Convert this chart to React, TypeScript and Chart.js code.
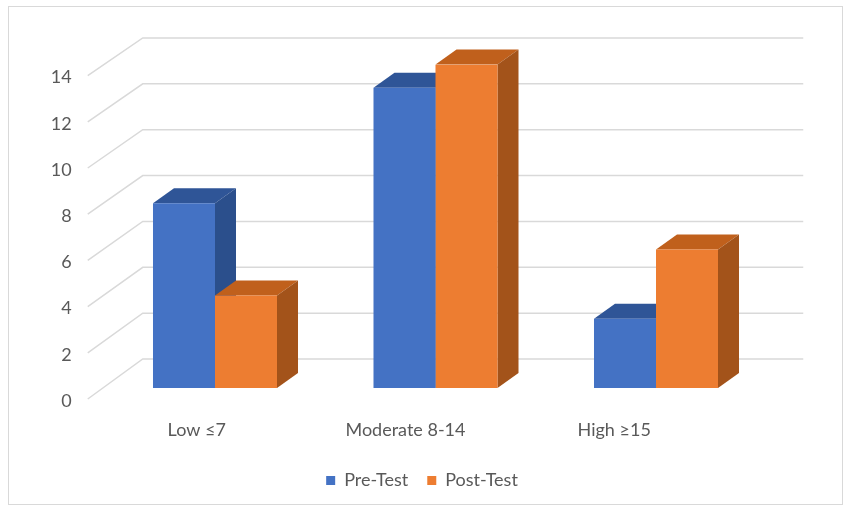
import { useEffect, useRef } from 'react';
import { Chart, registerables } from 'chart.js';

Chart.register(...registerables);

const categories = ['Low ≤7', 'Moderate 8-14', 'High ≥15'];
const seriesNames = ['Pre-Test', 'Post-Test'];
const preTest = [8, 13, 3];
const postTest = [4, 14, 6];
const yTicks = [0, 2, 4, 6, 8, 10, 12, 14];

const FRONT = ['#4472c4', '#ed7d31'];
const TOP = ['#2f5597', '#c0601c'];
const SIDE = ['#2b4f8c', '#a3531a'];
const DX = 21;
const DY = -15;
const TEXT = '#595959';
const FONT = { family: 'Lato, "Open Sans", sans-serif', size: 18 };
const LABEL_MIN = -0.4405;
const LABEL_MAX = 2.7284;

const threeD = {
  id: 'threeD',
  beforeDraw(chart: any) {
    const ctx = chart.ctx;
    ctx.save();
    ctx.strokeStyle = '#d9d9d9';
    ctx.lineWidth = 1;
    ctx.strokeRect(8.5, 6.5, 834, 498);
    ctx.restore();
  },
  beforeDatasetsDraw(chart: any) {
    const ctx = chart.ctx;
    const ys = chart.scales.y;
    const area = chart.chartArea;
    const y0 = ys.getPixelForValue(0);
    ctx.save();
    ctx.strokeStyle = '#d9d9d9';
    ctx.lineWidth = 1.5;
    for (const v of yTicks) {
      const yf = ys.getPixelForValue(v);
      const yb = y0 - 29 + (yf - y0) * 0.9926;
      ctx.beginPath();
      ctx.moveTo(area.left - 17, yf + 11);
      ctx.lineTo(area.left + 38, yb);
      ctx.lineTo(area.right + 37, yb);
      ctx.stroke();
    }
    chart.data.datasets.forEach((_ds: any, di: number) => {
      const meta = chart.getDatasetMeta(di);
      meta.data.forEach((bar: any) => {
        const { x, y, base, width } = bar.getProps(['x', 'y', 'base', 'width'], true);
        const l = x - width / 2;
        const r = x + width / 2;
        ctx.fillStyle = TOP[di];
        ctx.beginPath();
        ctx.moveTo(l, y);
        ctx.lineTo(l + DX, y + DY);
        ctx.lineTo(r + DX, y + DY);
        ctx.lineTo(r, y);
        ctx.closePath();
        ctx.fill();
        ctx.fillStyle = SIDE[di];
        ctx.beginPath();
        ctx.moveTo(r, y);
        ctx.lineTo(r + DX, y + DY);
        ctx.lineTo(r + DX, base + DY);
        ctx.lineTo(r, base);
        ctx.closePath();
        ctx.fill();
      });
    });
    ctx.restore();
  },
};

export default function App() {
  const ref = useRef<HTMLCanvasElement>(null);
  useEffect(() => {
    if (!ref.current) return;
    const chart = new Chart(ref.current, {
      type: 'bar',
      data: {
        labels: categories,
        datasets: [
          { label: seriesNames[0], data: preTest, backgroundColor: FRONT[0], borderWidth: 0 },
          { label: seriesNames[1], data: postTest, backgroundColor: FRONT[1], borderWidth: 0 },
        ],
      },
      options: {
        responsive: false,
        animation: false,
        events: [],
        layout: { padding: { top: 64.6, left: 0, right: 0, bottom: 10.5 } },
        datasets: { bar: { categoryPercentage: 0.5624, barPercentage: 1 } },
        scales: {
          x: { type: 'category', display: false },
          xl: {
            type: 'linear',
            position: 'bottom',
            offset: false,
            bounds: 'data',
            min: LABEL_MIN,
            max: LABEL_MAX,
            afterBuildTicks: (s: any) => {
              s.ticks = categories.map((_c, i) => ({ value: i }));
            },
            ticks: {
              callback: (v: any) => categories[v] ?? '',
              autoSkip: false,
              maxRotation: 0,
              padding: 11.7,
              color: TEXT,
              font: FONT,
            },
            grid: { display: false, offset: false, drawTicks: true, tickLength: 19.5 },
            border: { display: false },
          },
          y: {
            min: 0,
            max: 14,
            afterBuildTicks: (s: any) => {
              s.ticks = yTicks.map((v) => ({ value: v }));
            },
            afterFit: (s: any) => {
              s.width = 104.75;
            },
            ticks: { padding: 33, labelOffset: 13, color: TEXT, font: FONT },
            grid: { display: false, drawTicks: false },
            border: { display: false },
          },
          spacer: {
            type: 'linear',
            position: 'right',
            display: true,
            ticks: { display: false },
            grid: { display: false, drawTicks: false },
            border: { display: false },
            afterFit: (s: any) => {
              s.width = 77.75;
            },
          },
        },
        plugins: {
          legend: {
            position: 'bottom',
            labels: { boxWidth: 9, boxHeight: 9, padding: 19, color: TEXT, font: FONT },
          },
          tooltip: { enabled: false },
        },
      } as any,
      plugins: [threeD],
    });
    return () => chart.destroy();
  }, []);
  return (
    <div style={{ position: 'absolute', left: 0, top: 0, width: 844, height: 510, background: '#fff' }}>
      <canvas ref={ref} width={844} height={510} style={{ display: 'block' }} />
    </div>
  );
}
